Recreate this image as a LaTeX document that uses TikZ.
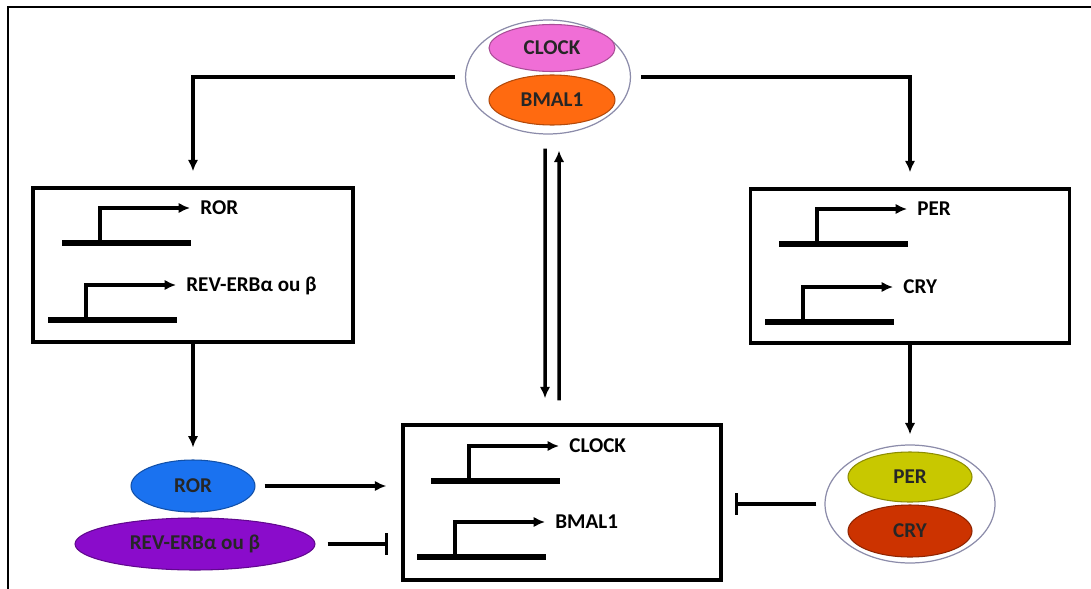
\documentclass[tikz,border=0pt]{standalone}
\usepackage{fontspec}
\setmainfont{Carlito}
\usepackage{tikz}
\usetikzlibrary{arrows.meta,positioning,calc,shapes.geometric}
\definecolor{clockpink}{HTML}{F06ED6}
\definecolor{bmalorange}{HTML}{FF6A10}
\definecolor{rorblue}{HTML}{1A72F0}
\definecolor{revpurple}{HTML}{8A0CCB}
\definecolor{peryellow}{HTML}{C8C800}
\definecolor{cryred}{HTML}{CC3300}
\definecolor{rimgray}{RGB}{140,140,170}

% gene: name, promoter x, baseline y, label
\newcommand{\gene}[4]{%
  \draw[dna] ({#2-38},#3) -- ({#2+91},#3);
  \draw[arr] (#2,#3) |- ({#2+90},{#3-35});
  \node[anchor=base west, inner sep=0pt] (#1) at ({#2+100},{#3-29}) {#4};
}

\begin{document}
\begin{tikzpicture}[x=0.02cm, y=-0.02cm, >={Latex[length=6.5pt,width=6pt]}, font=\bfseries\fontsize{12}{14}\selectfont]
\tikzstyle{arr}=[->, line width=2pt]
\tikzstyle{inh}=[-{Bar[width=12pt]}, line width=2pt]
\tikzstyle{box}=[draw, line width=2pt, rectangle, inner sep=0pt]
\tikzstyle{prot}=[ellipse, inner sep=0pt, text=black!85, line width=0.6pt]
\tikzstyle{cplx}=[ellipse, draw=rimgray, line width=0.7pt, inner sep=0pt]
\tikzstyle{dna}=[line width=3pt]

\useasboundingbox (0,0) rectangle (1091,588);
\draw[line width=1.4pt] (8,7) rectangle (1120,620);

% CLOCK/BMAL1 complex
\node[cplx, minimum width=3.3cm, minimum height=2.28cm] (clkbm) at (548,77) {};
\node[prot, fill=clockpink, draw=clockpink!70!black, minimum width=2.52cm, minimum height=0.94cm] (clock) at (552,48) {CLOCK};
\node[prot, fill=bmalorange, draw=bmalorange!70!black, minimum width=2.52cm, minimum height=1.0cm] (bmal) at (552,100) {BMAL1};

% target boxes
\node[box, minimum width=6.4cm, minimum height=3.08cm] (rorbox) at (193,265) {};
\node[box, minimum width=6.38cm, minimum height=3.08cm] (perbox) at (910,266) {};
\node[box, minimum width=6.36cm, minimum height=3.1cm] (genbox) at (562,502.5) {};

\gene{rorlbl}{100}{243}{ROR}
\gene{revlbl}{86}{320}{REV-ERBα ou β}
\gene{perlbl}{817}{244}{PER}
\gene{crylbl}{803}{322}{CRY}
\gene{clklbl}{469}{481}{CLOCK}
\gene{bmallbl}{455}{557}{BMAL1}

% proteins
\node[prot, fill=rorblue, draw=rorblue!70!black, minimum width=2.48cm, minimum height=1.04cm] (ror) at (193,486) {ROR};
\node[prot, fill=revpurple, draw=revpurple!70!black, minimum width=4.8cm, minimum height=1.04cm] (rev) at (195,544) {REV-ERBα ou β};
\node[cplx, minimum width=3.4cm, minimum height=2.36cm] (percry) at (910,504) {};
\node[prot, fill=peryellow, draw=peryellow!70!black, minimum width=2.48cm, minimum height=1.0cm] (per) at (910,477) {PER};
\node[prot, fill=cryred, draw=cryred!70!black, minimum width=2.48cm, minimum height=1.04cm] (cry) at (910,531) {CRY};

\draw[arr, shorten <=0.2cm, shorten >=0.3cm] (clkbm.west) -| (rorbox.north);
\draw[arr, shorten <=0.2cm, shorten >=0.3cm] (clkbm.east) -| (perbox.north);
\draw[arr] ([xshift=-0.06cm,yshift=-0.28cm]clkbm.south) -- ([xshift=-0.34cm,yshift=0.5cm]genbox.north);
\draw[arr] ([xshift=-0.06cm,yshift=0.46cm]genbox.north) -- ([xshift=0.22cm,yshift=-0.32cm]clkbm.south);
\draw[arr, shorten >=0.24cm] (rorbox.south) -- (ror.north);
\draw[arr, shorten >=0.2cm] (perbox.south) -- (percry.north);
\draw[arr, shorten <=0.18cm, shorten >=0.3cm] (ror.east) -- (ror.east -| genbox.west);
\draw[inh, shorten <=0.24cm, shorten >=0.26cm] (rev.east) -- (rev.east -| genbox.west);
\draw[inh, shorten <=0.16cm, shorten >=0.24cm] (percry.west) -- (percry.west -| genbox.east);
\end{tikzpicture}
\end{document}
